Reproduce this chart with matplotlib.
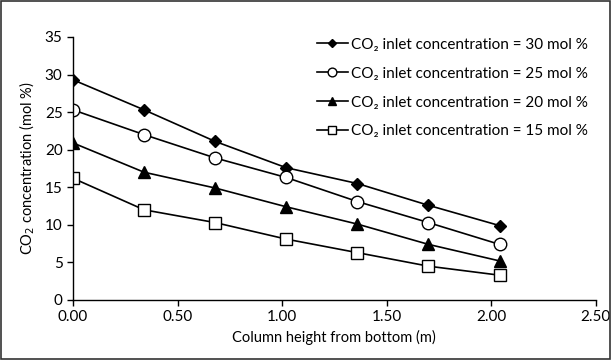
import matplotlib
matplotlib.use("Agg")
import matplotlib.pyplot as plt
from matplotlib.patches import Rectangle

# column height (m) and CO2 concentration (mol %) per inlet concentration
height = [0.00, 0.34, 0.68, 1.02, 1.36, 1.70, 2.04]
co2_30 = [29.3, 25.3, 21.1, 17.6, 15.5, 12.6, 9.9]
co2_25 = [25.3, 22.0, 18.9, 16.3, 13.1, 10.3, 7.4]
co2_20 = [20.9, 17.0, 14.9, 12.4, 10.1, 7.4, 5.2]
co2_15 = [16.2, 12.0, 10.3, 8.1, 6.3, 4.5, 3.3]
labels = ["CO₂ inlet concentration = 30 mol %",
          "CO₂ inlet concentration = 25 mol %",
          "CO₂ inlet concentration = 20 mol %",
          "CO₂ inlet concentration = 15 mol %"]

plt.rcParams["font.family"] = ["Lato", "DejaVu Sans"]
plt.rcParams["font.size"] = 11

fig = plt.figure(figsize=(6.11, 3.6), dpi=100)
ax = fig.add_axes([0.1195, 0.1667, 0.8555, 0.7306])

ax.plot(height, co2_30, "-D", color="black", lw=1.2, ms=6, mfc="black", label=labels[0])
ax.plot(height, co2_25, "-o", color="black", lw=1.2, ms=9, mfc="white", label=labels[1])
ax.plot(height, co2_20, "-^", color="black", lw=1.2, ms=8, mfc="black", label=labels[2])
ax.plot(height, co2_15, "-s", color="black", lw=1.2, ms=9, mfc="white", label=labels[3])

ax.set_xlim(0, 2.5)
ax.set_ylim(0, 35)
ax.set_xticks([0, 0.5, 1.0, 1.5, 2.0, 2.5])
ax.set_xticklabels(["0.00", "0.50", "1.00", "1.50", "2.00", "2.50"])
ax.set_yticks(range(0, 36, 5))
for s in ["top", "right"]:
    ax.spines[s].set_visible(False)
for s in ["left", "bottom"]:
    ax.spines[s].set_color("black")
    ax.spines[s].set_linewidth(1.0)
ax.tick_params(direction="out", length=4, width=1, color="black", labelsize=11)

ax.set_xlabel("Column height from bottom (m)", fontsize=10.5, labelpad=4)
ax.set_ylabel("CO$_2$ concentration (mol %)", fontsize=10.5, labelpad=6)

ax.legend(loc="upper right", bbox_to_anchor=(1.012, 1.05), frameon=False,
          handlelength=2.0, handletextpad=0.25, labelspacing=0.98, fontsize=11,
          markerscale=0.7)

fig.patches.append(Rectangle((0.002, 0.003), 0.996, 0.994, transform=fig.transFigure,
                             fill=False, edgecolor="#333333", lw=1.2))

fig.savefig("out.png", dpi=100)
